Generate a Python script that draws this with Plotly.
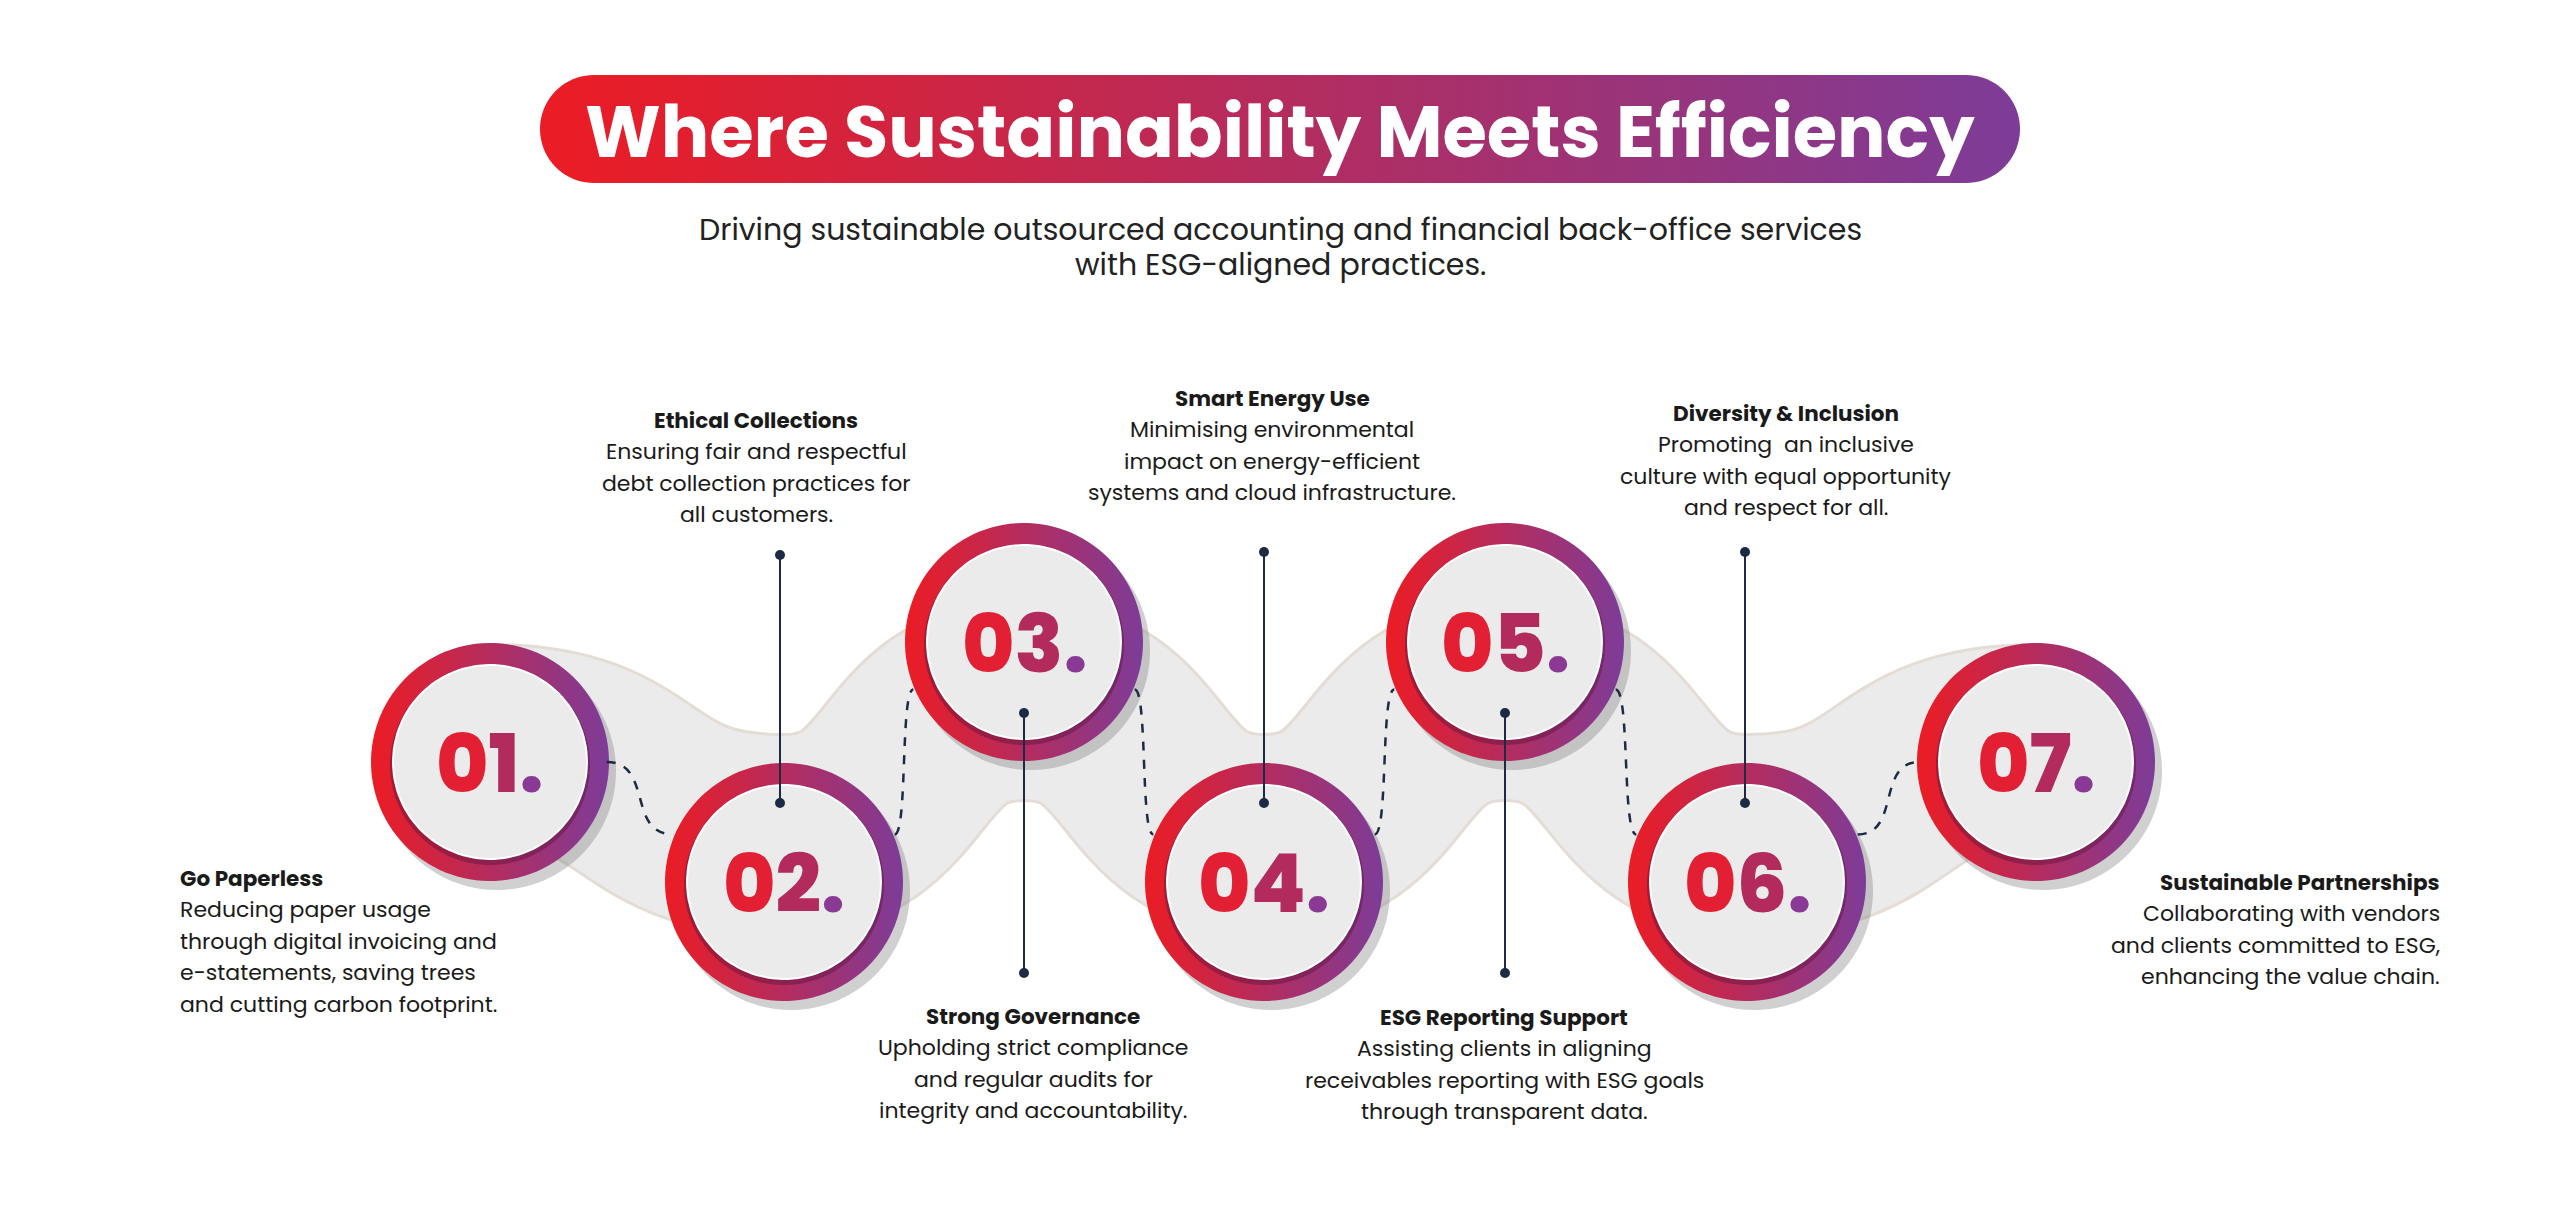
import numpy as np
import plotly.graph_objects as go

W, H = 2560, 1227
numbers = ["01", "02", "03", "04", "05", "06", "07"]
titles = ["Go Paperless", "Ethical Collections", "Strong Governance", "Smart Energy Use",
          "ESG Reporting Support", "Diversity & Inclusion", "Sustainable Partnerships"]
descs = [
    ["Reducing paper usage", "through digital invoicing and", "e-statements, saving trees", "and cutting carbon footprint."],
    ["Ensuring fair and respectful", "debt collection practices for", "all customers."],
    ["Upholding strict compliance", "and regular audits for", "integrity and accountability."],
    ["Minimising environmental", "impact on energy-efficient", "systems and cloud infrastructure."],
    ["Assisting clients in aligning", "receivables reporting with ESG goals", "through transparent data."],
    ["Promoting  an inclusive", "culture with equal opportunity", "and respect for all."],
    ["Collaborating with vendors", "and clients committed to ESG,", "enhancing the value chain."],
]
main_title = "Where Sustainability Meets Efficiency"
subtitle = ["Driving sustainable outsourced accounting and financial back-office services",
            "with ESG-aligned practices."]

# layout (pixel coordinates)
centers = [(490, 762), (784, 882), (1024, 642), (1264, 882), (1505, 642), (1747, 882), (2036, 762)]
R_OUT, R_IN = 119, 97
text_pos = [(178, 878, "left"), (756, 420, "center"), (1033, 1016, "center"), (1272, 398, "center"),
            (1504, 1017, "center"), (1786, 413, "center"), (2442, 882, "right")]
vlines = [(780, 555, 803), (1024, 713, 973), (1264, 552, 803), (1505, 713, 973), (1745, 552, 803)]
GRAD = [[0, "#ec1c24"], [1, "#7d3c98"]]
NAVY = "#1c2a44"
FONT = "Poppins, Inter, sans-serif"
M = 8  # page body margin

fig = go.Figure()
shapes = []

# gray wave band
pts = [(490, 745), (784, 835), (1024, 700), (1264, 835), (1505, 700), (1747, 835), (2036, 745)]
path = f"M {pts[0][0]},{pts[0][1]}"
for (x0, y0), (x1, y1) in zip(pts[:-1], pts[1:]):
    dx = (x1 - x0) * 0.55
    path += f" C {x0+dx},{y0} {x1-dx},{y1} {x1},{y1}"
shapes.append(dict(type="path", path=path, line=dict(color="#e4ddd6", width=204), layer="below"))
shapes.append(dict(type="path", path=path, line=dict(color="#ebebeb", width=198), layer="below"))

t = np.linspace(0, 2 * np.pi, 120)

def circ(cx, cy, r):
    return cx + r * np.cos(t), cy + r * np.sin(t)

# dashed connectors
for (x0, y0), (x1, y1) in zip(centers[:-1], centers[1:]):
    if y1 > y0 and y1 - y0 > 150:
        a0 = (x0 + R_OUT * 0.93, y0 + R_OUT * 0.4); a1 = (x1 - R_OUT * 0.93, y1 - R_OUT * 0.4)
    elif y1 > y0:
        a0 = (x0 + R_OUT * 0.98, y0); a1 = (x1 - R_OUT * 0.93, y1 - R_OUT * 0.4)
    elif y0 - y1 > 150:
        a0 = (x0 + R_OUT * 0.93, y0 - R_OUT * 0.4); a1 = (x1 - R_OUT * 0.93, y1 + R_OUT * 0.4)
    else:
        a0 = (x0 + R_OUT * 0.93, y0 - R_OUT * 0.4); a1 = (x1 - R_OUT * 0.98, y1)
    mx = (a0[0] + a1[0]) / 2
    shapes.append(dict(type="path", path=f"M {a0[0]},{a0[1]} C {mx+(a1[0]-a0[0])*0.2},{a0[1]} {mx-(a1[0]-a0[0])*0.2},{a1[1]} {a1[0]},{a1[1]}",
                       line=dict(color=NAVY, width=2.5, dash="dash")))

# circles
for (cx, cy), num in zip(centers, numbers):
    xs, ys = circ(cx + 7, cy + 9, R_OUT)
    fig.add_trace(go.Scatter(x=xs, y=ys, fill="toself", fillcolor="rgba(120,120,120,0.35)", mode="none", hoverinfo="skip"))
    xs, ys = circ(cx, cy, R_OUT)
    fig.add_trace(go.Scatter(x=xs, y=ys, fill="toself", mode="none", hoverinfo="skip",
                             fillgradient=dict(type="horizontal", colorscale=GRAD)))
    xs, ys = circ(cx, cy + 3, R_IN + 3)
    fig.add_trace(go.Scatter(x=xs, y=ys, fill="toself", fillcolor="rgba(90,20,60,0.45)", mode="none", hoverinfo="skip"))
    xs, ys = circ(cx, cy, R_IN)
    fig.add_trace(go.Scatter(x=xs, y=ys, fill="toself", fillcolor="#ebebeb", mode="lines",
                             line=dict(color="white", width=2), hoverinfo="skip"))
    fig.add_annotation(x=cx, y=cy + 2, text=f"<span style='color:#e21f33'>{num[0]}</span><span style='color:#b32a5c'>{num[1]}</span><span style='color:#8a3a94'>.</span>",
                       showarrow=False, font=dict(family=FONT, size=80, weight=800), xanchor="center", yanchor="middle")

# vertical lines with dots
for x, y0, y1 in vlines:
    shapes.append(dict(type="line", x0=x, x1=x, y0=y0, y1=y1, line=dict(color=NAVY, width=2)))
    for y in (y0, y1):
        shapes.append(dict(type="circle", x0=x - 5, x1=x + 5, y0=y - 5, y1=y + 5, fillcolor=NAVY, line=dict(width=0)))

# text blocks
for (x, y, al), ti, ds in zip(text_pos, titles, descs):
    fig.add_annotation(x=x, y=y, text=f"<b>{ti}</b>", showarrow=False, xanchor=al, yanchor="middle",
                       font=dict(family=FONT, size=21.5, color="#1a1a1a"))
    for k, line in enumerate(ds):
        fig.add_annotation(x=x, y=y + 31.5 * (k + 1), text=line, showarrow=False, xanchor=al, yanchor="middle",
                           font=dict(family=FONT, size=22, color="#1a1a1a"))

# title pill
x0, x1, y0, y1 = 540, 2020, 75, 183
r = (y1 - y0) / 2
cy = (y0 + y1) / 2
ar = np.linspace(-np.pi / 2, np.pi / 2, 40)
al_ = np.linspace(np.pi / 2, 3 * np.pi / 2, 40)
px = np.concatenate([x1 - r + r * np.cos(ar), x0 + r + r * np.cos(al_)])
py = np.concatenate([cy + r * np.sin(ar), cy + r * np.sin(al_)])
fig.add_trace(go.Scatter(x=px, y=py, fill="toself", mode="none", hoverinfo="skip",
                         fillgradient=dict(type="horizontal", colorscale=GRAD)))
fig.add_annotation(x=1280, y=131, text=f"<b>{main_title}</b>", showarrow=False, xanchor="center", yanchor="middle",
                   font=dict(family=FONT, size=72, color="white", weight=800))
for k, s in enumerate(subtitle):
    fig.add_annotation(x=1280, y=229 + 35 * k, text=s, showarrow=False, xanchor="center", yanchor="middle",
                       font=dict(family=FONT, size=30, color="#222"))

fig.update_layout(width=W - 2 * M, height=H - 2 * M, margin=dict(l=0, r=0, t=0, b=0), showlegend=False,
                  paper_bgcolor="white", plot_bgcolor="white", shapes=shapes,
                  xaxis=dict(range=[M, W - M], visible=False, fixedrange=True),
                  yaxis=dict(range=[H - M, M], visible=False, fixedrange=True))
fig.write_html("out.html", config={"displayModeBar": False})
